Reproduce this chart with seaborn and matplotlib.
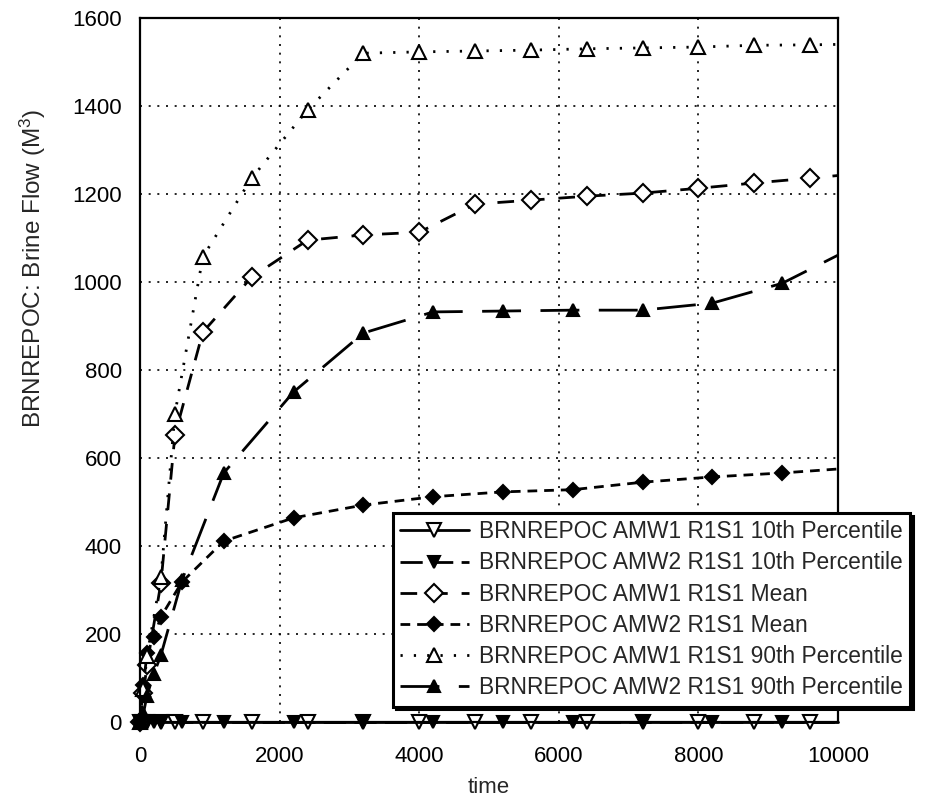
import numpy as np
import pandas as pd
import matplotlib
matplotlib.use("Agg")
import matplotlib.pyplot as plt
import seaborn as sns

# AMW1 sample times and values
t_amw1 = [0, 50, 100, 300, 500, 900, 1600, 2400, 3200, 4000, 4800, 5600, 6400, 7200, 8000, 8800, 9600, 10000]
amw1_p10 = [0, 0, 0, 0, 0, 0, 0, 0, 0, 0, 0, 0, 0, 0, 0, 0, 0, 0]
amw1_mean = [0, 66, 130, 316, 652, 886, 1011, 1095, 1107, 1113, 1177, 1186, 1195, 1202, 1213, 1225, 1236, 1242]
amw1_p90 = [0, 75, 150, 330, 700, 1057, 1236, 1391, 1520, 1523, 1525, 1527, 1530, 1532, 1534, 1538, 1539, 1540]

# AMW2 sample times and values
t_amw2 = [0, 50, 100, 200, 300, 600, 1200, 2200, 3200, 4200, 5200, 6200, 7200, 8200, 9200, 10000]
amw2_p10 = [0, 0, 0, 0, 0, 0, 0, 0, 0, 0, 0, 0, 0, 0, 0, 0]
amw2_mean = [0, 84, 157, 193, 239, 318, 411, 464, 493, 512, 523, 528, 545, 557, 566, 575]
amw2_p90 = [0, 20, 60, 110, 152, 322, 566, 750, 884, 932, 934, 936, 936, 952, 997, 1061]

labels = ["BRNREPOC AMW1 R1S1 10th Percentile",
          "BRNREPOC AMW2 R1S1 10th Percentile",
          "BRNREPOC AMW1 R1S1 Mean",
          "BRNREPOC AMW2 R1S1 Mean",
          "BRNREPOC AMW1 R1S1 90th Percentile",
          "BRNREPOC AMW2 R1S1 90th Percentile"]

sns.set_theme(style="white")
plt.rcParams['font.family'] = ['Liberation Sans', 'DejaVu Sans']
plt.rcParams['mathtext.default'] = 'regular'

fig = plt.figure(figsize=(9.25, 8.05), dpi=100)
ax = fig.add_axes([140 / 925, 83 / 805, 698 / 925, 704 / 805])

df1 = pd.DataFrame({"time": t_amw1, "p10": amw1_p10, "mean": amw1_mean, "p90": amw1_p90})
df2 = pd.DataFrame({"time": t_amw2, "p10": amw2_p10, "mean": amw2_mean, "p90": amw2_p90})

# (data, column, label, linestyle, marker, facecolor, markersize)
styles = [
    (df1, "p10", labels[0], "-", "v", "white", 10),
    (df2, "p10", labels[1], (0, (8, 3)), "v", "black", 9),
    (df1, "mean", labels[2], (0, (6, 5)), "D", "white", 9),
    (df2, "mean", labels[3], (0, (3.5, 2.5)), "D", "black", 7),
    (df1, "p90", labels[4], (0, (0.8, 4)), "^", "white", 10),
    (df2, "p90", labels[5], (0, (14, 7)), "^", "black", 9),
]

for d, col, lab, ls, mk, fc, ms in styles:
    sns.lineplot(data=d, x="time", y=col, ax=ax, label=lab, color="black",
                 linestyle=ls, linewidth=2, marker=mk, markersize=ms,
                 markerfacecolor=fc, markeredgecolor="black", markeredgewidth=1.5,
                 markevery=list(range(len(d) - 1)), clip_on=False)

ax.set_xlim(0, 10000)
ax.set_ylim(0, 1600)
ax.set_xticks(range(0, 10001, 2000))
ax.set_yticks(range(0, 1601, 200))
ax.grid(True, color="black", linestyle=(0, (1.2, 4)), linewidth=1.2)
for s in ax.spines.values():
    s.set_color("black")
    s.set_linewidth(1.6)
ax.tick_params(axis="both", length=0, labelsize=16, colors="black")
ax.tick_params(axis="x", pad=17)
ax.tick_params(axis="y", pad=13)

ax.set_xlabel("time", fontsize=16)
ax.xaxis.set_label_coords(0.5, -0.078)
ax.set_ylabel("BRNREPOC: Brine Flow (M$^3$)", fontsize=17.5)
ax.yaxis.set_label_coords(-0.132, 0.645)

leg = ax.legend(loc="upper left", bbox_to_anchor=(393 / 925, 1 - 513 / 805),
                bbox_transform=fig.transFigure, borderaxespad=0, fontsize=16.4,
                handlelength=3, handletextpad=0.45, labelspacing=0.36, borderpad=0.32,
                fancybox=False, shadow={"color": "black", "alpha": 1}, framealpha=1)
leg.get_frame().set_edgecolor("black")
leg.get_frame().set_linewidth(2.2)
leg.set_zorder(10)

fig.savefig("out.png", dpi=100, facecolor="white")
